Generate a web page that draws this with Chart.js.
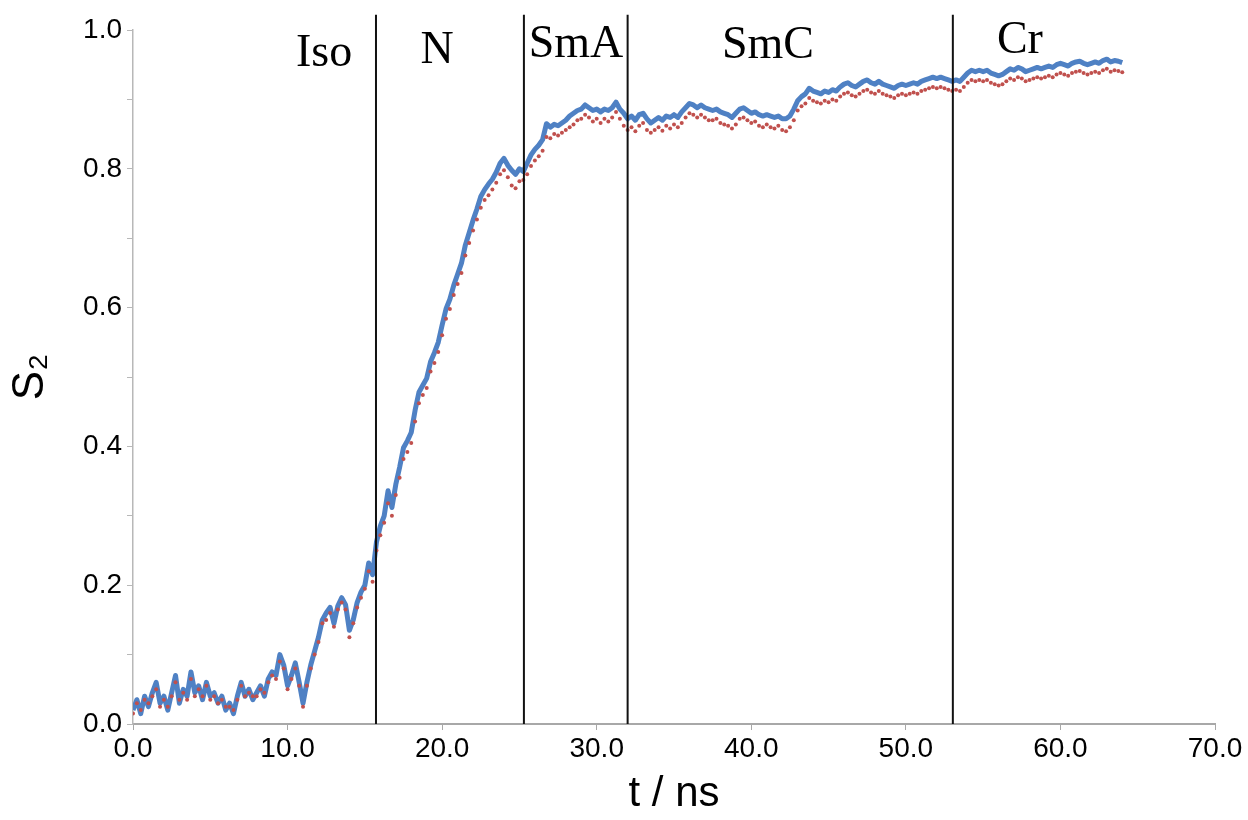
<!DOCTYPE html>
<html>
<head>
<meta charset="utf-8">
<title>S2 order parameter vs time</title>
<script src="https://cdn.jsdelivr.net/npm/chart.js@4/dist/chart.umd.min.js"></script>
<style>
    html, body { margin: 0; padding: 0; background: #fff; }
    #wrap { width: 1248px; height: 820px; }
</style>
</head>
<body>
<div id="wrap"><canvas id="s2Chart" width="1248" height="820"></canvas></div>
<script>
// Sampling grid of the two traces (ns)
const T_START = 0;
const T_STEP = 0.25;

// Blue trace, S2, one value every 0.25 ns from 0 to 64 ns
const blueS2 = [
    0.020, 0.035, 0.015, 0.040, 0.025, 0.045, 0.060, 0.030, 0.040, 0.020, 0.045, 0.070, 0.030, 0.050, 0.040, 0.075, 0.045,
    0.055, 0.035, 0.060, 0.040, 0.045, 0.030, 0.040, 0.020, 0.030, 0.015, 0.040, 0.060, 0.040, 0.050, 0.035, 0.045,
    0.055, 0.040, 0.065, 0.075, 0.070, 0.100, 0.085, 0.055, 0.070, 0.088, 0.060, 0.030, 0.060, 0.085, 0.105, 0.125,
    0.150, 0.160, 0.168, 0.145, 0.170, 0.182, 0.172, 0.135, 0.150, 0.175, 0.190, 0.200, 0.232, 0.215, 0.262, 0.285,
    0.300, 0.336, 0.312, 0.345, 0.370, 0.398, 0.408, 0.420, 0.452, 0.478, 0.488, 0.498, 0.522, 0.535, 0.550, 0.575,
    0.598, 0.612, 0.632, 0.648, 0.664, 0.690, 0.708, 0.726, 0.742, 0.760, 0.770, 0.778, 0.785, 0.795, 0.808, 0.815,
    0.805, 0.798, 0.792, 0.800, 0.796, 0.808, 0.820, 0.828, 0.834, 0.842, 0.865, 0.860, 0.864, 0.862, 0.866, 0.870,
    0.876, 0.880, 0.884, 0.886, 0.892, 0.888, 0.884, 0.886, 0.882, 0.886, 0.884, 0.888, 0.896, 0.886, 0.880, 0.872,
    0.876, 0.870, 0.878, 0.880, 0.872, 0.866, 0.870, 0.874, 0.870, 0.876, 0.874, 0.878, 0.874, 0.882, 0.888, 0.894,
    0.892, 0.888, 0.892, 0.888, 0.886, 0.884, 0.886, 0.882, 0.880, 0.878, 0.874, 0.880, 0.886, 0.888, 0.884, 0.880,
    0.882, 0.878, 0.876, 0.878, 0.876, 0.874, 0.876, 0.872, 0.872, 0.876, 0.886, 0.898, 0.904, 0.908, 0.916, 0.912,
    0.910, 0.908, 0.912, 0.910, 0.914, 0.912, 0.918, 0.922, 0.924, 0.920, 0.918, 0.922, 0.926, 0.928, 0.924, 0.922,
    0.926, 0.922, 0.920, 0.918, 0.916, 0.920, 0.922, 0.920, 0.922, 0.924, 0.922, 0.926, 0.928, 0.930, 0.932, 0.930,
    0.932, 0.930, 0.928, 0.926, 0.928, 0.926, 0.932, 0.938, 0.942, 0.940, 0.942, 0.940, 0.942, 0.938, 0.936, 0.934,
    0.936, 0.940, 0.944, 0.942, 0.946, 0.944, 0.940, 0.942, 0.944, 0.946, 0.944, 0.946, 0.948, 0.946, 0.950, 0.952,
    0.950, 0.948, 0.952, 0.954, 0.955, 0.952, 0.950, 0.952, 0.954, 0.952, 0.956, 0.958, 0.954, 0.956, 0.955, 0.953
];

// Red dotted trace, same grid
const redS2 = [
    0.015, 0.030, 0.020, 0.035, 0.030, 0.040, 0.050, 0.025, 0.035, 0.025, 0.040, 0.060, 0.035, 0.045, 0.035, 0.065, 0.040,
    0.050, 0.040, 0.055, 0.035, 0.040, 0.030, 0.035, 0.025, 0.025, 0.020, 0.035, 0.055, 0.040, 0.045, 0.040, 0.040,
    0.050, 0.045, 0.060, 0.070, 0.065, 0.090, 0.080, 0.050, 0.065, 0.080, 0.055, 0.025, 0.055, 0.080, 0.100, 0.118,
    0.145, 0.150, 0.160, 0.140, 0.165, 0.175, 0.165, 0.125, 0.145, 0.168, 0.182, 0.195, 0.220, 0.205, 0.250, 0.272,
    0.290, 0.318, 0.300, 0.330, 0.355, 0.382, 0.392, 0.405, 0.436, 0.462, 0.474, 0.484, 0.508, 0.520, 0.536, 0.560,
    0.584, 0.598, 0.618, 0.634, 0.650, 0.675, 0.693, 0.711, 0.727, 0.744, 0.755, 0.762, 0.770, 0.780, 0.792, 0.798,
    0.788, 0.776, 0.772, 0.782, 0.784, 0.792, 0.804, 0.812, 0.818, 0.826, 0.846, 0.844, 0.850, 0.848, 0.852, 0.856,
    0.860, 0.864, 0.870, 0.872, 0.878, 0.874, 0.868, 0.872, 0.866, 0.872, 0.868, 0.874, 0.882, 0.872, 0.862, 0.856,
    0.860, 0.854, 0.862, 0.866, 0.856, 0.852, 0.856, 0.860, 0.855, 0.862, 0.858, 0.864, 0.860, 0.866, 0.874, 0.880,
    0.878, 0.874, 0.878, 0.874, 0.870, 0.870, 0.872, 0.866, 0.864, 0.862, 0.858, 0.864, 0.872, 0.874, 0.870, 0.866,
    0.868, 0.862, 0.860, 0.864, 0.860, 0.858, 0.862, 0.856, 0.854, 0.860, 0.870, 0.884, 0.890, 0.894, 0.902, 0.898,
    0.896, 0.894, 0.898, 0.896, 0.900, 0.898, 0.904, 0.908, 0.910, 0.906, 0.904, 0.908, 0.912, 0.914, 0.910, 0.908,
    0.912, 0.908, 0.906, 0.904, 0.902, 0.906, 0.908, 0.906, 0.908, 0.910, 0.908, 0.912, 0.914, 0.916, 0.918, 0.916,
    0.918, 0.916, 0.914, 0.912, 0.914, 0.912, 0.918, 0.924, 0.928, 0.926, 0.928, 0.926, 0.928, 0.924, 0.922, 0.920,
    0.922, 0.926, 0.930, 0.928, 0.932, 0.930, 0.926, 0.928, 0.930, 0.932, 0.930, 0.932, 0.934, 0.932, 0.936, 0.938,
    0.936, 0.934, 0.938, 0.940, 0.941, 0.938, 0.936, 0.938, 0.940, 0.938, 0.942, 0.944, 0.940, 0.942, 0.941, 0.939
];

// Phase boundaries (ns) and phase names
const boundaries = [15.72, 25.29, 32.0, 53.04];
const phaseNames = ['Iso', 'N', 'SmA', 'SmC', 'Cr'];
const phaseLabelT = [12.36, 19.67, 28.66, 41.08, 57.38];
const phaseLabelS2 = [0.948, 0.952, 0.961, 0.960, 0.967];
const boundaryTop = 1.022;

// Axis ticks
const xTickStep = 10;
const yTickStep = 0.1;

const toPoints = arr => arr.map((v, i) => ({ x: T_START + i * T_STEP, y: v }));

const boundaryDatasets = boundaries.map(t => ({
    data: [{ x: t, y: 0 }, { x: t, y: boundaryTop }],
    showLine: true,
    borderColor: '#111111',
    borderWidth: 2,
    pointRadius: 0,
    clip: false,
    order: 0
}));

// Phase names drawn at data coordinates
const phaseLabelPlugin = {
    id: 'phaseLabels',
    afterDatasetsDraw(chart) {
        const { ctx, scales } = chart;
        ctx.save();
        ctx.fillStyle = '#000';
        ctx.font = '46px "Liberation Serif", "Times New Roman", serif';
        ctx.textAlign = 'center';
        ctx.textBaseline = 'alphabetic';
        phaseNames.forEach((name, i) => {
            ctx.fillText(name, scales.x.getPixelForValue(phaseLabelT[i]), scales.y.getPixelForValue(phaseLabelS2[i]));
        });
        ctx.restore();
    }
};

const axisFont = '"Liberation Sans", Arial, sans-serif';

new Chart(document.getElementById('s2Chart'), {
    type: 'scatter',
    data: {
        datasets: [
            ...boundaryDatasets,
            {
                label: 'red',
                data: toPoints(redS2),
                showLine: false,
                pointRadius: 2,
                pointBorderWidth: 0,
                pointBackgroundColor: '#c0504d',
                order: 1
            },
            {
                label: 'blue',
                data: toPoints(blueS2),
                showLine: true,
                borderColor: '#4f81c4',
                borderWidth: 5,
                borderJoinStyle: 'round',
                pointRadius: 0,
                tension: 0,
                order: 2
            }
        ]
    },
    options: {
        responsive: false,
        animation: false,
        layout: { padding: { top: 30, right: 33, left: 0, bottom: 0 } },
        plugins: {
            legend: { display: false },
            tooltip: { enabled: false }
        },
        scales: {
            x: {
                type: 'linear',
                min: 0,
                max: 70,
                afterFit: s => { s.height = 96; },
                border: { color: '#a8a8a8', width: 2 },
                grid: { drawOnChartArea: false, drawTicks: true, tickLength: 6, color: '#a8a8a8' },
                ticks: {
                    stepSize: xTickStep,
                    padding: 2,
                    color: '#000',
                    font: { family: axisFont, size: 28 },
                    callback: v => v.toFixed(1)
                },
                title: {
                    display: true,
                    text: 't / ns',
                    color: '#000',
                    font: { family: axisFont, size: 42 },
                    padding: { top: 0, bottom: 0 }
                }
            },
            y: {
                type: 'linear',
                min: 0,
                max: 1,
                afterFit: s => { s.width = 133; },
                border: { color: '#b8b8b8', width: 1.5 },
                grid: { drawOnChartArea: false, drawTicks: true, tickLength: 6, color: '#b8b8b8' },
                ticks: {
                    stepSize: yTickStep,
                    padding: 5,
                    color: '#000',
                    font: { family: axisFont, size: 28 },
                    callback: v => (Math.round(v * 10) % 2 === 0 ? v.toFixed(1) : '')
                },
                title: {
                    display: true,
                    text: 'S\u2082',
                    color: '#000',
                    font: { family: axisFont, size: 44 },
                    padding: { top: 4, bottom: 0 }
                }
            }
        }
    },
    plugins: [phaseLabelPlugin]
});
</script>
</body>
</html>
